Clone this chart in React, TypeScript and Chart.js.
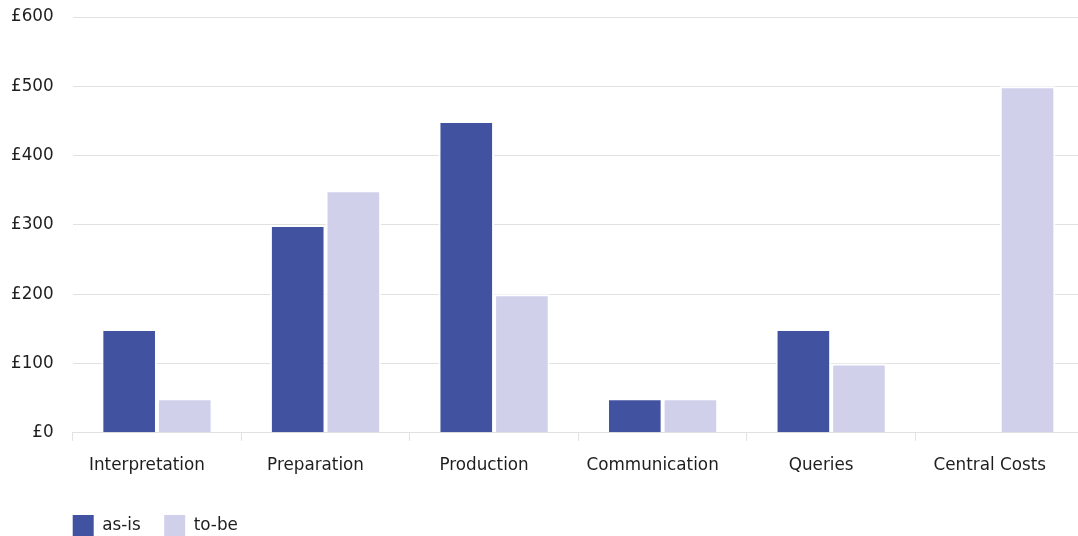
import React, { useEffect, useRef } from "react";
import { Chart, registerables } from "chart.js";

Chart.register(...registerables);

const categories = [
  "Interpretation",
  "Preparation",
  "Production",
  "Communication",
  "Queries",
  "Central Costs",
];
const asIsValues = [150, 300, 450, 50, 150, 0];
const toBeValues = [50, 350, 200, 50, 100, 500];
const seriesNames = ["as-is", "to-be"];
const seriesColors = ["#4152A0", "#D0D0EB"];

const FONT_FAMILY = "'DejaVu Sans', Verdana, sans-serif";
const FONT_SIZE = 16.8;
const TEXT_COLOR = "#1e1e1e";
const GRID_COLOR = "#e1e1e1";

// Canvas is a little larger than the visible frame and offset inside it.
const SHIFT_X = 8;
const SHIFT_Y = 12;
const FRAME_W = 1078;
const FRAME_H = 536;
const CANVAS_W = 1098;
const CANVAS_H = FRAME_H + SHIFT_Y;

// Key drawn along the bottom edge, starting at the left of the plot area.
const bottomKey = {
  id: "bottomKey",
  afterDraw(chart: any) {
    const { ctx, chartArea } = chart;
    const box = 21;
    const top = chart.height - box;
    let x = chartArea.left;
    ctx.save();
    ctx.font = `${FONT_SIZE}px ${FONT_FAMILY}`;
    ctx.textBaseline = "middle";
    ctx.textAlign = "left";
    chart.data.datasets.forEach((ds: any) => {
      ctx.fillStyle = ds.backgroundColor;
      ctx.fillRect(x, top, box, box);
      const textX = x + box + 8.5;
      ctx.fillStyle = TEXT_COLOR;
      ctx.fillText(ds.label, textX, top + box / 2);
      x = textX + ctx.measureText(ds.label).width + 23.5;
    });
    ctx.restore();
  },
};

export default function App() {
  const canvasRef = useRef<HTMLCanvasElement | null>(null);

  useEffect(() => {
    if (!canvasRef.current) return;
    const chart = new Chart(canvasRef.current, {
      type: "bar",
      data: {
        labels: categories,
        datasets: [
          {
            label: seriesNames[0],
            data: asIsValues,
            backgroundColor: seriesColors[0],
            borderColor: "#ffffff",
            borderWidth: 2,
          },
          {
            label: seriesNames[1],
            data: toBeValues,
            backgroundColor: seriesColors[1],
            borderColor: "#ffffff",
            borderWidth: 2,
          },
        ],
      },
      options: {
        animation: false,
        responsive: true,
        maintainAspectRatio: false,
        layout: { padding: { left: 0, right: 6, top: 6, bottom: 45 } },
        datasets: {
          bar: { categoryPercentage: 0.66, barPercentage: 1.0 },
        },
        plugins: {
          legend: { display: false },
          tooltip: { enabled: false },
        },
        scales: {
          x: {
            grid: {
              offset: true,
              drawOnChartArea: false,
              drawTicks: true,
              tickLength: 8,
              color: GRID_COLOR,
            },
            border: { color: GRID_COLOR },
            ticks: {
              color: TEXT_COLOR,
              padding: 15,
              labelOffset: -10,
              maxRotation: 0,
              autoSkip: false,
              font: { family: FONT_FAMILY, size: FONT_SIZE },
            },
          },
          y: {
            min: 0,
            max: 600,
            grid: { color: GRID_COLOR, drawTicks: false },
            border: { display: false },
            ticks: {
              stepSize: 100,
              padding: 19,
              color: TEXT_COLOR,
              font: { family: FONT_FAMILY, size: FONT_SIZE },
              callback: (v: any) => "£" + v,
            },
          },
        },
      },
      plugins: [bottomKey],
    });
    return () => chart.destroy();
  }, []);

  return (
    <div
      style={{
        position: "absolute",
        left: 0,
        top: 0,
        width: FRAME_W,
        height: FRAME_H,
        overflow: "hidden",
        background: "#ffffff",
      }}
    >
      <div
        style={{
          position: "absolute",
          left: -SHIFT_X,
          top: -SHIFT_Y,
          width: CANVAS_W,
          height: CANVAS_H,
        }}
      >
        <canvas ref={canvasRef} />
      </div>
    </div>
  );
}
